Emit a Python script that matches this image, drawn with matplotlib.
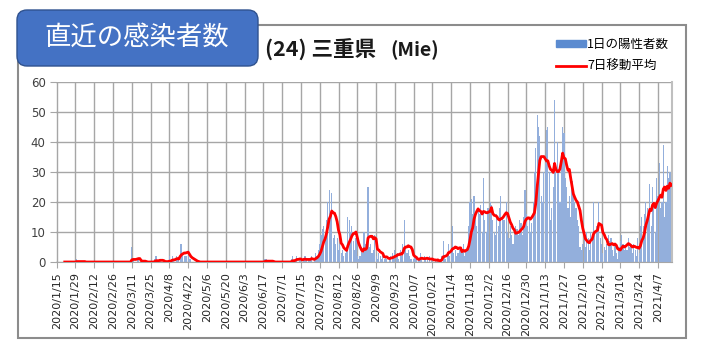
import matplotlib
matplotlib.use('Agg')
import matplotlib.pyplot as plt
import matplotlib.patches as mpatches
import matplotlib.transforms as mtransforms
from matplotlib.lines import Line2D
import pandas as pd

plt.rcParams['font.family'] = ['Noto Sans CJK JP', 'DejaVu Sans']

################################################
#           daily positives, Mie               #
################################################

start_date = '2020-01-15'

jan20 = [0, 0, 0, 0, 0, 0, 0, 0, 0, 0, 0, 0, 0, 0, 0, 1, 0]
feb20 = [0, 0, 0, 0, 0, 0, 0, 0, 0, 0, 0, 0, 0, 0, 0, 0, 0, 0, 0, 0,
         0, 0, 0, 0, 0, 0, 0, 0, 0]
mar20 = [0, 0, 0, 0, 0, 0, 0, 0, 0, 0, 5, 1, 0, 0, 1, 1, 0, 0, 0, 0,
         0, 0, 0, 0, 0, 0, 0, 1, 2, 0, 0]
apr20 = [1, 0, 0, 0, 0, 0, 0, 2, 0, 2, 1, 0, 2, 1, 1, 6, 6, 3, 2, 2,
         2, 2, 1, 1, 0, 0, 0, 0, 0, 0]
may20 = [0, 0, 0, 0, 0, 0, 0, 0, 0, 0, 0, 0, 0, 0, 0, 0, 0, 0, 0, 0,
         0, 0, 0, 0, 0, 0, 0, 0, 0, 0, 0]
jun20 = [0, 0, 0, 0, 0, 0, 0, 0, 0, 0, 0, 0, 0, 0, 0, 0, 0, 1, 1, 0,
         0, 0, 0, 0, 0, 0, 0, 0, 0, 0]
jul20 = [0, 0, 0, 0, 0, 0, 0, 1, 2, 0, 1, 2, 0, 1, 1, 0, 1, 2, 1, 0,
         1, 1, 2, 0, 1, 3, 2, 4, 6, 9, 11]
aug20 = [12, 10, 14, 20, 24, 16, 23, 8, 9, 6, 8, 4, 6, 3, 4, 2, 3, 5, 15, 14,
         10, 12, 7, 4, 8, 2, 1, 2, 5, 3, 10]
sep20 = [6, 5, 25, 5, 6, 3, 4, 9, 2, 1, 3, 2, 1, 2, 1, 2, 1, 0, 1, 2,
         3, 2, 4, 2, 3, 1, 4, 2, 6, 14]
oct20 = [5, 3, 4, 2, 1, 0, 1, 2, 1, 0, 1, 3, 1, 0, 2, 1, 1, 0, 2, 1,
         0, 0, 1, 0, 1, 0, 1, 2, 7, 2, 1]
nov20 = [3, 6, 2, 5, 12, 3, 4, 2, 3, 4, 5, 3, 6, 2, 4, 5, 12, 20, 21, 16,
         22, 15, 12, 18, 16, 19, 10, 28, 14, 10]
dec20 = [18, 18, 20, 19, 14, 10, 9, 16, 12, 18, 22, 15, 14, 14, 20, 10, 8, 12, 9, 6,
         10, 12, 11, 9, 14, 13, 9, 15, 24, 16, 12]
jan21 = [14, 10, 13, 20, 30, 38, 49, 45, 42, 22, 20, 30, 33, 44, 45, 30, 14, 18, 25, 54,
         30, 40, 30, 20, 35, 45, 43, 28, 25, 18, 22]
feb21 = [15, 27, 24, 20, 18, 14, 12, 5, 4, 6, 8, 5, 10, 8, 4, 10, 8, 20, 10, 12,
         10, 20, 8, 6, 3, 5, 4, 6]
mar21 = [9, 7, 8, 4, 2, 6, 3, 1, 5, 7, 9, 6, 4, 5, 4, 8, 5, 6, 3, 6,
         4, 2, 8, 3, 12, 15, 12, 16, 20, 18, 16]
apr21 = [26, 12, 25, 20, 10, 28, 22, 33, 18, 20, 39, 15, 20, 32, 28, 30, 15]

daily = (jan20 + feb20 + mar20 + apr20 + may20 + jun20 + jul20 + aug20
         + sep20 + oct20 + nov20 + dec20 + jan21 + feb21 + mar21 + apr21)
dates = pd.date_range(start_date, periods=len(daily), freq='D')
avg7 = pd.Series(daily).rolling(7).mean()
pos = list(range(len(daily)))

################################################
#           figure                             #
################################################

W, H = 706, 353
fig = plt.figure(figsize=(W / 100, H / 100), dpi=100)

# outer chart frame
frame = mpatches.Rectangle((18 / W, 1 - 338 / H), (686 - 18) / W, (338 - 25) / H,
                           transform=fig.transFigure, fill=False,
                           edgecolor='#8c8c8c', linewidth=1.5)
fig.add_artist(frame)

ax = fig.add_axes([56 / W, 1 - 262 / H, (672 - 56) / W, (262 - 82) / H])
ax.bar(pos, daily, width=0.85, color='#93afdc', zorder=2)
ax.plot(pos, avg7, color='#ff0000', linewidth=2, zorder=3)

ax.set_xlim(-0.5, len(daily) - 0.5)
ax.set_ylim(0, 60)
ax.set_yticks(range(0, 61, 10))
ticks = pos[::14]
ax.set_xticks(ticks)
ax.set_xticklabels([f'{d.year}/{d.month}/{d.day}' for d in dates[::14]],
                   rotation=90, fontsize=8, family='DejaVu Sans', color='#262626')
for lab in ax.get_yticklabels():
    lab.set_fontsize(8.5)
    lab.set_family('DejaVu Sans')
    lab.set_color('#404040')

ax.grid(True, color='#a6a6a6', linewidth=1, zorder=0)
ax.set_axisbelow(True)
for s in ['top', 'left']:
    ax.spines[s].set_visible(False)
ax.spines['bottom'].set_color('#a6a6a6')
ax.spines['right'].set_color('#bfbfbf')
ax.spines['right'].set_linewidth(1.5)
ax.tick_params(axis='both', color='#a6a6a6', length=4)

# blue title box
box = mpatches.FancyBboxPatch((17, H - 66), 241, 56,
                              boxstyle='round,pad=0,rounding_size=10',
                              transform=mtransforms.IdentityTransform(),
                              facecolor='#4472c4', edgecolor='#2f528f', linewidth=1)
fig.add_artist(box)
fig.text(137 / W, 1 - 37 / H, '直近の感染者数', color='white', fontsize=19,
         ha='center', va='center')

fig.text(265 / W, 1 - 50 / H, '(24) 三重県', fontsize=15.5, fontweight='bold',
         ha='left', va='center', color='#1a1a1a')
fig.text(390 / W, 1 - 50 / H, '(Mie)', fontsize=14, fontweight='bold',
         ha='left', va='center', color='#1a1a1a')

handles = [mpatches.Patch(color='#5b8bd0'),
           Line2D([0], [0], color='#ff0000', linewidth=2)]
fig.legend(handles, ['1日の陽性者数', '7日移動平均'], loc='upper left',
           bbox_to_anchor=(556 / W, 1 - 38 / H), frameon=False, fontsize=9,
           handlelength=2.4, handleheight=0.5, handletextpad=0.1, labelspacing=0.75,
           borderaxespad=0, borderpad=0)

fig.savefig('out.png', dpi=100)
